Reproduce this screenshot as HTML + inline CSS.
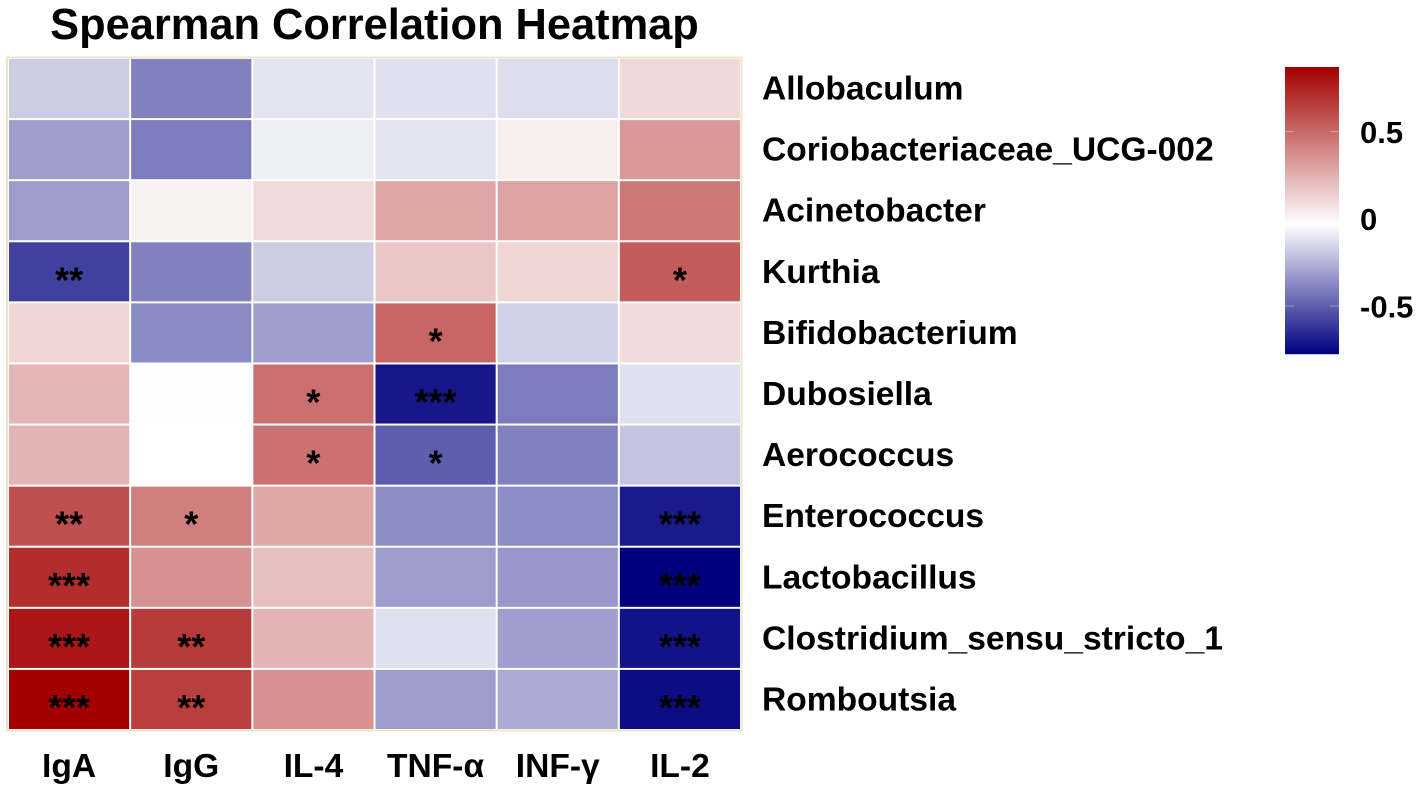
<!DOCTYPE html>
<html lang="en">
<head>
<meta charset="utf-8">
<title>Spearman Correlation Heatmap</title>
<style>
html,body{margin:0;padding:0;background:#fff;}
svg{display:block;font-family:"Liberation Sans",Arial,sans-serif;font-weight:bold;fill:#000;}
</style>
</head>
<body>
<svg id="chart" width="1418" height="791" viewBox="0 0 1418 791" xmlns="http://www.w3.org/2000/svg">
<rect x="0" y="0" width="1418" height="791" fill="#ffffff"/>
<text x="374.5" y="39" font-size="43.4" text-anchor="middle">Spearman Correlation Heatmap</text>
<rect x="7" y="57.5" width="734.5" height="673" fill="#ffffff" stroke="#ece6c8" stroke-width="2"/>
<g id="cells"></g>
<g id="stars"></g>
<g id="rowLabels"></g>
<g id="colLabels"></g>
<g id="legend"></g>
</svg>
<script>
const columns = ["IgA", "IgG", "IL-4", "TNF-α", "INF-γ", "IL-2"];
const rows = ["Allobaculum", "Coriobacteriaceae_UCG-002", "Acinetobacter", "Kurthia", "Bifidobacterium", "Dubosiella", "Aerococcus", "Enterococcus", "Lactobacillus", "Clostridium_sensu_stricto_1", "Romboutsia"];
const correlations = [
  [-0.18, -0.40, -0.11, -0.12, -0.13, 0.105],
  [-0.31, -0.41, -0.08, -0.11, 0.03, 0.33],
  [-0.32, 0.015, 0.10, 0.28, 0.30, 0.45],
  [-0.59, -0.40, -0.18, 0.17, 0.12, 0.55],
  [0.12, -0.37, -0.31, 0.51, -0.165, 0.10],
  [0.23, -0.04, 0.475, -0.71, -0.41, -0.12],
  [0.235, -0.03, 0.47, -0.50, -0.40, -0.20],
  [0.59, 0.43, 0.28, -0.36, -0.365, -0.70],
  [0.71, 0.36, 0.195, -0.32, -0.33, -0.776],
  [0.79, 0.66, 0.235, -0.12, -0.31, -0.72],
  [0.87, 0.65, 0.36, -0.32, -0.28, -0.74]
];
const significance = [
  ["", "", "", "", "", ""],
  ["", "", "", "", "", ""],
  ["", "", "", "", "", ""],
  ["**", "", "", "", "", "*"],
  ["", "", "", "*", "", ""],
  ["", "", "*", "***", "", ""],
  ["", "", "*", "*", "", ""],
  ["**", "*", "", "", "", "***"],
  ["***", "", "", "", "", "***"],
  ["***", "**", "", "", "", "***"],
  ["***", "**", "", "", "", "***"]
];
const legendTicks = [0.5, 0, -0.5];
const legendTickLabels = ["0.5", "0", "-0.5"];
const domainMin = -0.776;
const domainMid = -0.03;
const domainMax = 0.87;

const NS = "http://www.w3.org/2000/svg";
const plotLeft = 8, plotRight = 741, plotTop = 58, plotBottom = 730;
const xScale = i => plotLeft + i * (plotRight - plotLeft) / columns.length;
const yScale = i => plotTop + i * (plotBottom - plotTop) / rows.length;
const barTop = 67, barBottom = 354, barLeft = 1285, barRight = 1339;
const legendY = v => barTop + (domainMax - v) / (domainMax - domainMin) * (barBottom - barTop);

function color(v) {
  let r, g, b;
  if (v >= domainMid) {
    const t = Math.min(1, (v - domainMid) / (domainMax - domainMid));
    r = 255 + (163 - 255) * t; g = 255 * (1 - t); b = 255 * (1 - t);
  } else {
    const t = Math.min(1, (domainMid - v) / (domainMid - domainMin));
    r = 255 * (1 - t); g = 255 * (1 - t); b = 255 + (127 - 255) * t;
  }
  return "rgb(" + Math.round(r) + "," + Math.round(g) + "," + Math.round(b) + ")";
}
function make(tag, attrs, parent, text) {
  const el = document.createElementNS(NS, tag);
  for (const k in attrs) el.setAttribute(k, attrs[k]);
  if (text !== undefined) el.textContent = text;
  parent.appendChild(el);
  return el;
}

const cellsG = document.getElementById("cells");
const starsG = document.getElementById("stars");
const rowG = document.getElementById("rowLabels");
const colG = document.getElementById("colLabels");
const legendG = document.getElementById("legend");

correlations.forEach((rowVals, r) => {
  rowVals.forEach((v, c) => {
    const rect = make("rect", {x: xScale(c) + 1, y: yScale(r) + 1, width: xScale(c + 1) - xScale(c) - 2, height: yScale(r + 1) - yScale(r) - 2, fill: color(v)}, cellsG);
    
    
    const mark = significance[r][c];
    if (mark) {
      const s = make("text", {x: (xScale(c) + xScale(c + 1)) / 2, y: (yScale(r) + yScale(r + 1)) / 2 + 20.5, "font-size": 36, "text-anchor": "middle"}, starsG, mark);
      
      
    }
  });
});
rows.forEach((name, r) => {
  const t = make("text", {x: 762, y: (yScale(r) + yScale(r + 1)) / 2 + 11, "font-size": 33.6}, rowG, name);
  
  
});
columns.forEach((name, c) => {
  const t = make("text", {x: (xScale(c) + xScale(c + 1)) / 2, y: 777, "font-size": 33.6, "text-anchor": "middle"}, colG, name);
  
  
});
for (let y = barTop; y < barBottom; y++) {
  const v = domainMax - (y + 0.5 - barTop) / (barBottom - barTop) * (domainMax - domainMin);
  const seg = make("rect", {x: barLeft, y: y, width: barRight - barLeft, height: 1.2, fill: color(v)}, legendG);
  
  
}
legendTicks.forEach((v, i) => {
  const y = legendY(v);
  const t1 = make("rect", {x: barLeft, y: y - 0.5, width: 9, height: 1.2, fill: "#ffffff", opacity: 0.3}, legendG);
  
  
  const t2 = make("rect", {x: barRight - 9, y: y - 0.5, width: 9, height: 1.2, fill: "#ffffff", opacity: 0.3}, legendG);
  
  
  const lab = make("text", {x: 1360, y: y + 11.5, "font-size": 31}, legendG, legendTickLabels[i]);
  
  
});
</script>
</body>
</html>
